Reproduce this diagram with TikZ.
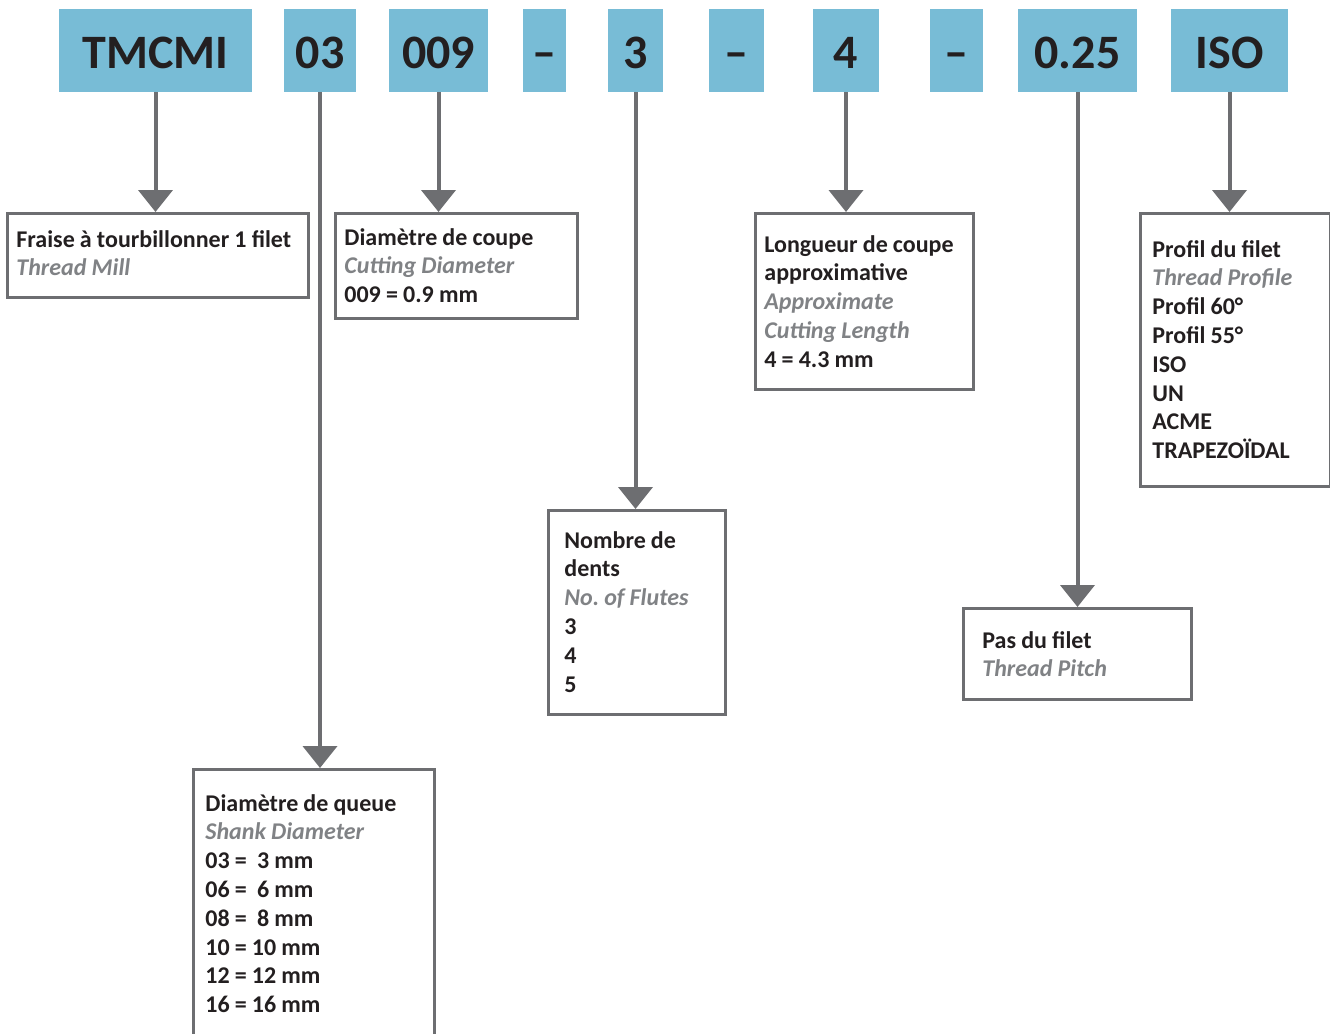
\documentclass[tikz,border=0pt]{standalone}
\usepackage{fontspec}
\setmainfont{Carlito}
\frenchspacing
\usetikzlibrary{arrows.meta}

\definecolor{keyblue}{RGB}{120,188,214}
\definecolor{linegray}{RGB}{109,110,113}
\definecolor{inkblack}{RGB}{35,31,32}
\definecolor{subgray}{RGB}{128,130,133}
\newcommand{\engl}[1]{{\color{subgray}\itshape #1}}
\newcommand{\tightspace}{\spaceskip=0.215em plus 0.04em minus 0.02em\relax}

\begin{document}
\begin{tikzpicture}[x=0.5pt,y=-0.5pt,
    codebox/.style={fill=keyblue, text=inkblack, inner sep=0pt, minimum height=41.5pt,
        text height=18pt, text depth=0pt, font=\fontsize{24}{28.8}\selectfont\bfseries},
    descbox/.style={draw=linegray, line width=1.25pt, anchor=north west, inner sep=0pt},
    desctext/.style={anchor=base west, inner sep=0pt, align=left, text width=#1,
        text=inkblack, font=\fontsize{12}{14.4}\selectfont\bfseries,
        execute at begin node=\tightspace},
    desctext/.default=110pt,
    pointer/.style={draw=linegray, line width=2pt, -{Triangle[width=17pt,length=11pt]}}]
    \useasboundingbox (0,0) rectangle (1330,1034);

    % Code segments (top row)
    \node[codebox, minimum width=96.5pt] (tmcmi) at (155.5,50.5) {TMCMI};
    \node[codebox, minimum width=36pt]   (c03)   at (320,50.5)   {03};
    \node[codebox, minimum width=49.5pt] (c009)  at (438.5,50.5) {009};
    \node[codebox, minimum width=21.5pt] (dashA) at (544.5,50.5) {–};
    \node[codebox, minimum width=27.5pt] (c3)    at (635.5,50.5) {3};
    \node[codebox, minimum width=27.5pt] (dashB) at (736.5,50.5) {–};
    \node[codebox, minimum width=33pt]   (c4)    at (846,50.5)   {4};
    \node[codebox, minimum width=26.5pt] (dashC) at (956.5,50.5) {–};
    \node[codebox, minimum width=59.5pt] (c025)  at (1077.5,50.5) {0.25};
    \node[codebox, minimum width=58.5pt] (ciso)  at (1229.5,50.5) {ISO};

    % Description frames
    \node[descbox, minimum width=150.5pt, minimum height=42pt]   (millbox)    at (6,212)    {};
    \node[descbox, minimum width=121pt,   minimum height=52.5pt] (diabox)     at (334,212)  {};
    \node[descbox, minimum width=109pt,   minimum height=88pt]   (lengthbox)  at (754,212)  {};
    \node[descbox, minimum width=95pt,    minimum height=136.5pt] (profilebox) at (1139,212) {};
    \node[descbox, minimum width=88.5pt,  minimum height=102pt]  (flutebox)   at (547,509)  {};
    \node[descbox, minimum width=114pt,   minimum height=45.5pt] (pitchbox)   at (962,607)  {};
    \node[descbox, minimum width=120.5pt, minimum height=137pt]  (shankbox)   at (192,768)  {};

    % Description texts
    \node[desctext=145pt] (milltxt) at (16,247)
        {Fraise à tourbillonner 1 filet\\\engl{Thread Mill}};
    \node[desctext] (diatxt) at (344,245)
        {Diamètre de coupe\\\engl{Cutting Diameter}\\009 = 0.9 mm};
    \node[desctext] (lengthtxt) at (764,252)
        {Longueur de coupe\\approximative\\\engl{Approximate}\\\engl{Cutting Length}\\4 = 4.3 mm};
    \node[desctext=85pt] (profiletxt) at (1152,257)
        {Profil du filet\\\engl{Thread Profile}\\Profil 60°\\Profil 55°\\ISO\\UN\\ACME\\TRAPEZOÏDAL};
    \node[desctext=80pt] (flutetxt) at (564,548)
        {Nombre de\\dents\\\engl{No. of Flutes}\\3\\4\\5};
    \node[desctext=100pt] (pitchtxt) at (982,648)
        {Pas du filet\\\engl{Thread Pitch}};
    \node[desctext] (shanktxt) at (205,811)
        {Diamètre de queue\\\engl{Shank Diameter}\\03 =\ \ 3 mm\\06 =\ \ 6 mm\\08 =\ \ 8 mm\\10 = 10 mm\\12 = 12 mm\\16 = 16 mm};

    % Pointers
    \draw[pointer] (tmcmi.south) -- (tmcmi.south |- millbox.north);
    \draw[pointer] (c03.south)   -- (c03.south |- shankbox.north);
    \draw[pointer] (c009.south)  -- (c009.south |- diabox.north);
    \draw[pointer] (c3.south)    -- (c3.south |- flutebox.north);
    \draw[pointer] (c4.south)    -- (c4.south |- lengthbox.north);
    \draw[pointer] (c025.south)  -- (c025.south |- pitchbox.north);
    \draw[pointer] (ciso.south)  -- (ciso.south |- profilebox.north);
\end{tikzpicture}
\end{document}
